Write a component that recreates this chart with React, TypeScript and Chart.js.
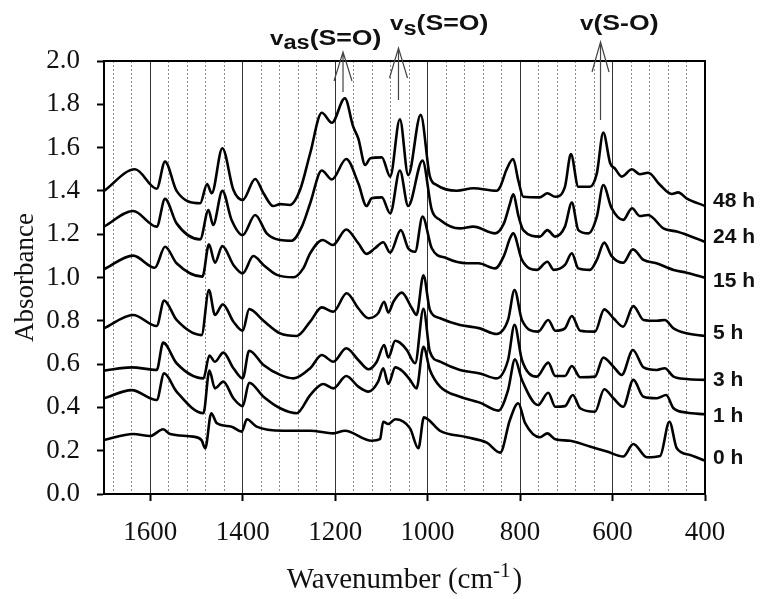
import { useEffect, useRef } from "react";
import { Chart, registerables } from "chart.js";

Chart.register(...registerables);

const SERIF = "'Liberation Serif', 'Times New Roman', serif";
const SANS = "'Liberation Sans', Arial, sans-serif";

// ---------- data (wavenumber, absorbance) ----------
const wn48 = [1700, 1633, 1586, 1568, 1543, 1492, 1477, 1467, 1444, 1420, 1400, 1373, 1355, 1334, 1319, 1298, 1276, 1254, 1229, 1207, 1179, 1161, 1150, 1135, 1124, 1099, 1081, 1060, 1042, 1015, 995, 980, 937, 901, 851, 843, 829, 815, 804, 793, 757, 741, 724, 703, 690, 674, 649, 634, 620, 605, 595, 580, 558, 541, 523, 497, 472, 458, 440, 400];
const ab48 = [1.40, 1.50, 1.41, 1.535, 1.40, 1.343, 1.432, 1.389, 1.597, 1.404, 1.358, 1.455, 1.389, 1.33, 1.339, 1.335, 1.404, 1.574, 1.761, 1.715, 1.828, 1.697, 1.643, 1.52, 1.551, 1.555, 1.466, 1.731, 1.473, 1.751, 1.466, 1.427, 1.401, 1.412, 1.401, 1.419, 1.50, 1.547, 1.45, 1.373, 1.37, 1.389, 1.373, 1.419, 1.57, 1.419, 1.419, 1.481, 1.669, 1.527, 1.504, 1.466, 1.50, 1.477, 1.484, 1.427, 1.386, 1.393, 1.366, 1.33];

const wn24 = [1700, 1637, 1586, 1568, 1543, 1492, 1474, 1464, 1444, 1424, 1400, 1373, 1348, 1319, 1294, 1272, 1254, 1229, 1207, 1176, 1150, 1132, 1121, 1099, 1081, 1060, 1042, 1011, 991, 973, 930, 901, 854, 835, 822, 815, 803, 793, 757, 741, 724, 703, 688, 674, 652, 634, 620, 602, 577, 558, 541, 523, 490, 461, 400];
const ab24 = [1.235, 1.307, 1.235, 1.363, 1.25, 1.176, 1.312, 1.243, 1.40, 1.266, 1.196, 1.289, 1.204, 1.173, 1.17, 1.235, 1.343, 1.494, 1.453, 1.547, 1.435, 1.33, 1.366, 1.37, 1.296, 1.494, 1.33, 1.54, 1.312, 1.266, 1.227, 1.235, 1.204, 1.25, 1.34, 1.384, 1.28, 1.219, 1.189, 1.219, 1.189, 1.235, 1.346, 1.219, 1.204, 1.281, 1.427, 1.32, 1.266, 1.32, 1.284, 1.289, 1.227, 1.212, 1.165];

const wn15 = [1700, 1637, 1590, 1568, 1543, 1487, 1473, 1460, 1444, 1420, 1400, 1377, 1355, 1326, 1290, 1269, 1254, 1227, 1205, 1176, 1150, 1132, 1114, 1096, 1081, 1058, 1042, 1027, 1011, 991, 959, 915, 890, 854, 835, 822, 815, 796, 764, 741, 727, 703, 688, 674, 649, 634, 618, 602, 577, 556, 533, 505, 468, 440, 400];
const ab15 = [1.038, 1.101, 1.045, 1.142, 1.066, 1.004, 1.153, 1.068, 1.145, 1.058, 1.019, 1.099, 1.058, 1.012, 1.001, 1.042, 1.112, 1.173, 1.15, 1.222, 1.158, 1.109, 1.135, 1.163, 1.115, 1.219, 1.135, 1.119, 1.281, 1.135, 1.089, 1.066, 1.066, 1.042, 1.10, 1.18, 1.204, 1.081, 1.035, 1.073, 1.035, 1.058, 1.112, 1.042, 1.035, 1.081, 1.161, 1.099, 1.068, 1.13, 1.081, 1.066, 1.035, 1.022, 0.999];

const wn5 = [1700, 1637, 1586, 1570, 1543, 1489, 1473, 1460, 1443, 1420, 1400, 1386, 1355, 1319, 1283, 1254, 1229, 1204, 1175, 1150, 1128, 1107, 1094, 1085, 1074, 1056, 1034, 1024, 1009, 995, 973, 930, 887, 851, 826, 812, 796, 761, 739, 724, 703, 688, 670, 638, 618, 598, 577, 555, 533, 504, 487, 468, 440, 400];
const ab5 = [0.765, 0.827, 0.776, 0.893, 0.804, 0.734, 0.942, 0.827, 0.876, 0.796, 0.754, 0.854, 0.80, 0.742, 0.73, 0.796, 0.862, 0.842, 0.927, 0.858, 0.812, 0.835, 0.888, 0.838, 0.888, 0.93, 0.858, 0.827, 1.01, 0.85, 0.812, 0.781, 0.765, 0.739, 0.804, 0.942, 0.804, 0.75, 0.804, 0.754, 0.765, 0.822, 0.754, 0.75, 0.853, 0.812, 0.773, 0.868, 0.804, 0.80, 0.804, 0.765, 0.742, 0.73];

const wn3 = [1700, 1640, 1586, 1572, 1543, 1485, 1472, 1460, 1442, 1420, 1400, 1386, 1355, 1319, 1290, 1254, 1229, 1204, 1176, 1150, 1128, 1110, 1094, 1085, 1070, 1060, 1045, 1027, 1009, 995, 973, 930, 887, 851, 826, 812, 796, 764, 739, 724, 703, 688, 670, 638, 620, 598, 580, 556, 533, 504, 487, 468, 440, 400];
const ab3 = [0.57, 0.585, 0.573, 0.699, 0.604, 0.534, 0.64, 0.611, 0.653, 0.581, 0.534, 0.662, 0.596, 0.55, 0.534, 0.581, 0.642, 0.611, 0.673, 0.619, 0.576, 0.611, 0.688, 0.631, 0.708, 0.699, 0.665, 0.604, 0.855, 0.657, 0.611, 0.573, 0.557, 0.534, 0.619, 0.781, 0.619, 0.542, 0.607, 0.545, 0.545, 0.591, 0.539, 0.542, 0.63, 0.588, 0.55, 0.665, 0.585, 0.573, 0.581, 0.542, 0.531, 0.527];

const wn1 = [1700, 1640, 1586, 1570, 1543, 1485, 1472, 1460, 1442, 1420, 1400, 1386, 1355, 1319, 1283, 1254, 1226, 1204, 1176, 1150, 1128, 1107, 1096, 1085, 1070, 1053, 1038, 1024, 1009, 995, 973, 930, 887, 847, 826, 811, 796, 761, 739, 724, 703, 686, 670, 638, 618, 598, 577, 555, 533, 504, 484, 468, 440, 400];
const ab1 = [0.442, 0.48, 0.434, 0.557, 0.473, 0.373, 0.57, 0.488, 0.519, 0.442, 0.406, 0.514, 0.449, 0.396, 0.373, 0.457, 0.508, 0.488, 0.545, 0.496, 0.473, 0.519, 0.581, 0.508, 0.585, 0.565, 0.527, 0.488, 0.68, 0.573, 0.496, 0.449, 0.422, 0.385, 0.48, 0.622, 0.527, 0.411, 0.468, 0.403, 0.406, 0.457, 0.396, 0.38, 0.484, 0.442, 0.403, 0.527, 0.449, 0.442, 0.457, 0.396, 0.376, 0.368];

const wn0 = [1700, 1637, 1600, 1572, 1557, 1507, 1489, 1481, 1468, 1456, 1424, 1402, 1391, 1370, 1312, 1254, 1204, 1179, 1121, 1103, 1096, 1085, 1070, 1038, 1020, 1008, 973, 915, 872, 843, 822, 804, 789, 757, 741, 724, 692, 649, 612, 577, 555, 526, 497, 477, 461, 432, 400];
const ab0 = [0.249, 0.277, 0.268, 0.299, 0.277, 0.265, 0.249, 0.211, 0.373, 0.327, 0.311, 0.288, 0.345, 0.311, 0.292, 0.292, 0.28, 0.292, 0.246, 0.253, 0.334, 0.323, 0.345, 0.303, 0.211, 0.354, 0.292, 0.262, 0.237, 0.191, 0.342, 0.419, 0.327, 0.262, 0.28, 0.253, 0.246, 0.219, 0.196, 0.173, 0.231, 0.17, 0.176, 0.334, 0.211, 0.18, 0.154];

const seriesLabels = ["48 h", "24 h", "15 h", "5 h", "3 h", "1 h", "0 h"];
const seriesLabelY = [1.353, 1.185, 0.984, 0.745, 0.524, 0.36, 0.164];

const xMajorTicks = [1600, 1400, 1200, 1000, 800, 600, 400];
const xMinorTicks = [1680, 1640, 1560, 1520, 1480, 1440, 1360, 1320, 1280, 1240, 1160, 1120, 1080, 1040, 960, 920, 880, 840, 760, 720, 680, 640, 560, 520, 480, 440];
const yTicks = [0, 0.2, 0.4, 0.6, 0.8, 1.0, 1.2, 1.4, 1.6, 1.8, 2.0];

const bandWavenumbers = [1183, 1063, 626];

// ---------- drawing helpers ----------
type Part = { text: string; size: number; dy: number };

function drawRich(ctx: CanvasRenderingContext2D, parts: Part[], x: number, baseline: number, sx: number) {
  ctx.save();
  ctx.translate(x, baseline);
  ctx.scale(sx, 1);
  ctx.textAlign = "left";
  ctx.textBaseline = "alphabetic";
  let cx = 0;
  for (const p of parts) {
    ctx.font = `bold ${p.size}px ${SANS}`;
    ctx.fillText(p.text, cx, p.dy);
    cx += ctx.measureText(p.text).width;
  }
  ctx.restore();
}

const bandStyles = [
  { labelX: 270, baseline: 45, top: 52, bottom: 92, armY: 81, armDx: 9, parts: [{ text: "v", size: 20, dy: 0 }, { text: "as", size: 19.5, dy: 3.5 }, { text: "(S=O)", size: 22, dy: 0 }] },
  { labelX: 390, baseline: 30, top: 48, bottom: 100, armY: 78, armDx: 9, parts: [{ text: "v", size: 20, dy: 0 }, { text: "s", size: 19.5, dy: 4.5 }, { text: "(S=O)", size: 22, dy: 0 }] },
  { labelX: 580, baseline: 30, top: 42, bottom: 120, armY: 72, armDx: 8.5, parts: [{ text: "v", size: 20, dy: 0 }, { text: "(S-O)", size: 22, dy: 0 }] },
];

const overlayPlugin = {
  id: "overlay",
  afterDraw(chart: any) {
    const { ctx, chartArea: ca, scales } = chart;
    const xs = scales.x;
    const ys = scales.y;
    ctx.save();

    // frame
    ctx.strokeStyle = "#000";
    ctx.lineWidth = 2;
    ctx.strokeRect(ca.left, ca.top, ca.right - ca.left, ca.bottom - ca.top);

    // series labels
    ctx.fillStyle = "#111";
    ctx.font = `bold 21px ${SANS}`;
    ctx.textAlign = "left";
    ctx.textBaseline = "middle";
    seriesLabels.forEach((t, i) => {
      ctx.fillText(t, ca.right + 8, ys.getPixelForValue(seriesLabelY[i]));
    });

    // band arrows + labels
    bandWavenumbers.forEach((w, i) => {
      const st = bandStyles[i];
      const x = xs.getPixelForValue(w);
      ctx.strokeStyle = "#444";
      ctx.lineWidth = 1.2;
      ctx.beginPath();
      ctx.moveTo(x, st.bottom);
      ctx.lineTo(x, st.top);
      ctx.moveTo(x - st.armDx, st.armY);
      ctx.lineTo(x, st.top);
      ctx.lineTo(x + st.armDx, st.armY);
      ctx.stroke();
      ctx.fillStyle = "#111";
      drawRich(ctx, st.parts, st.labelX, st.baseline, 1.21);
    });

    // y title
    ctx.fillStyle = "#111";
    ctx.save();
    ctx.translate(33, (ca.top + ca.bottom) / 2 + 0);
    ctx.rotate(-Math.PI / 2);
    ctx.font = `27px ${SERIF}`;
    ctx.textAlign = "center";
    ctx.textBaseline = "alphabetic";
    ctx.fillText("Absorbance", 0, 0);
    ctx.restore();

    // x title with superscript
    const mainFont = `29px ${SERIF}`;
    const supFont = `21px ${SERIF}`;
    ctx.textAlign = "left";
    ctx.textBaseline = "alphabetic";
    ctx.font = mainFont;
    const w1 = ctx.measureText("Wavenumber (cm").width;
    const w3 = ctx.measureText(")").width;
    ctx.font = supFont;
    const w2 = ctx.measureText("-1").width;
    const total = w1 + w2 + 2 + w3;
    let tx = (ca.left + ca.right) / 2 - total / 2;
    const base = 588;
    ctx.font = mainFont;
    ctx.fillText("Wavenumber (cm", tx, base);
    tx += w1;
    ctx.font = supFont;
    ctx.fillText("-1", tx, base - 11);
    tx += w2 + 2;
    ctx.font = mainFont;
    ctx.fillText(")", tx, base);

    ctx.restore();
  },
};

const series = [
  { wn: wn48, ab: ab48 },
  { wn: wn24, ab: ab24 },
  { wn: wn15, ab: ab15 },
  { wn: wn5, ab: ab5 },
  { wn: wn3, ab: ab3 },
  { wn: wn1, ab: ab1 },
  { wn: wn0, ab: ab0 },
];

export default function App() {
  const ref = useRef<HTMLCanvasElement>(null);

  useEffect(() => {
    if (!ref.current) return;
    const chart = new Chart(ref.current, {
      type: "line",
      data: {
        datasets: series.map((s, i) => ({
          label: seriesLabels[i],
          data: s.wn.map((x, j) => ({ x, y: s.ab[j] })),
          borderColor: "#000",
          borderWidth: 2.6,
          pointRadius: 0,
          fill: false,
          cubicInterpolationMode: "monotone" as const,
        })),
      },
      options: {
        responsive: false,
        animation: false,
        layout: { padding: { left: 0, top: 61, right: 58, bottom: 0 } },
        plugins: { legend: { display: false }, tooltip: { enabled: false } },
        scales: {
          x: {
            type: "linear",
            reverse: true,
            min: 400,
            max: 1700,
            position: "bottom",
            afterBuildTicks: (s: any) => {
              s.ticks = xMajorTicks.map((v) => ({ value: v }));
            },
            afterFit: (s: any) => {
              s.height = 105;
            },
            ticks: {
              font: { family: SERIF, size: 27 },
              color: "#111",
              padding: 16,
              maxRotation: 0,
              autoSkip: false,
              callback: (v: any) => String(v),
            },
            grid: {
              color: (c: any) => (c.tick && c.tick.value === 400 ? "rgba(0,0,0,0)" : "#333"),
              lineWidth: 1,
              tickColor: "#000",
              tickWidth: 2,
              tickLength: 7,
            },
            border: { display: true, color: "#000", width: 2 },
          },
          xMinor: {
            type: "linear",
            reverse: true,
            min: 400,
            max: 1700,
            position: "bottom",
            afterBuildTicks: (s: any) => {
              s.ticks = xMinorTicks.map((v) => ({ value: v }));
            },
            afterFit: (s: any) => {
              s.height = 0;
            },
            ticks: { display: false },
            grid: { color: "#8c8c8c", lineWidth: 1, drawTicks: false },
            border: { display: false, dash: [2, 2] },
          },
          y: {
            type: "linear",
            min: 0,
            max: 2,
            position: "left",
            afterBuildTicks: (s: any) => {
              s.ticks = yTicks.map((v) => ({ value: v }));
            },
            afterFit: (s: any) => {
              s.width = 104;
            },
            ticks: {
              font: { family: SERIF, size: 27 },
              color: "#111",
              padding: 17,
              callback: (v: any) => Number(v).toFixed(1),
            },
            grid: {
              drawOnChartArea: false,
              tickColor: "#000",
              tickWidth: 2,
              tickLength: 7,
            },
            border: { display: true, color: "#000", width: 2 },
          },
        },
      },
      plugins: [overlayPlugin],
    } as any);
    return () => chart.destroy();
  }, []);

  return (
    <div style={{ position: "fixed", left: 0, top: 0, width: 763, height: 599, background: "#fff" }}>
      <canvas ref={ref} width={763} height={599} style={{ display: "block", width: 763, height: 599 }} />
    </div>
  );
}
